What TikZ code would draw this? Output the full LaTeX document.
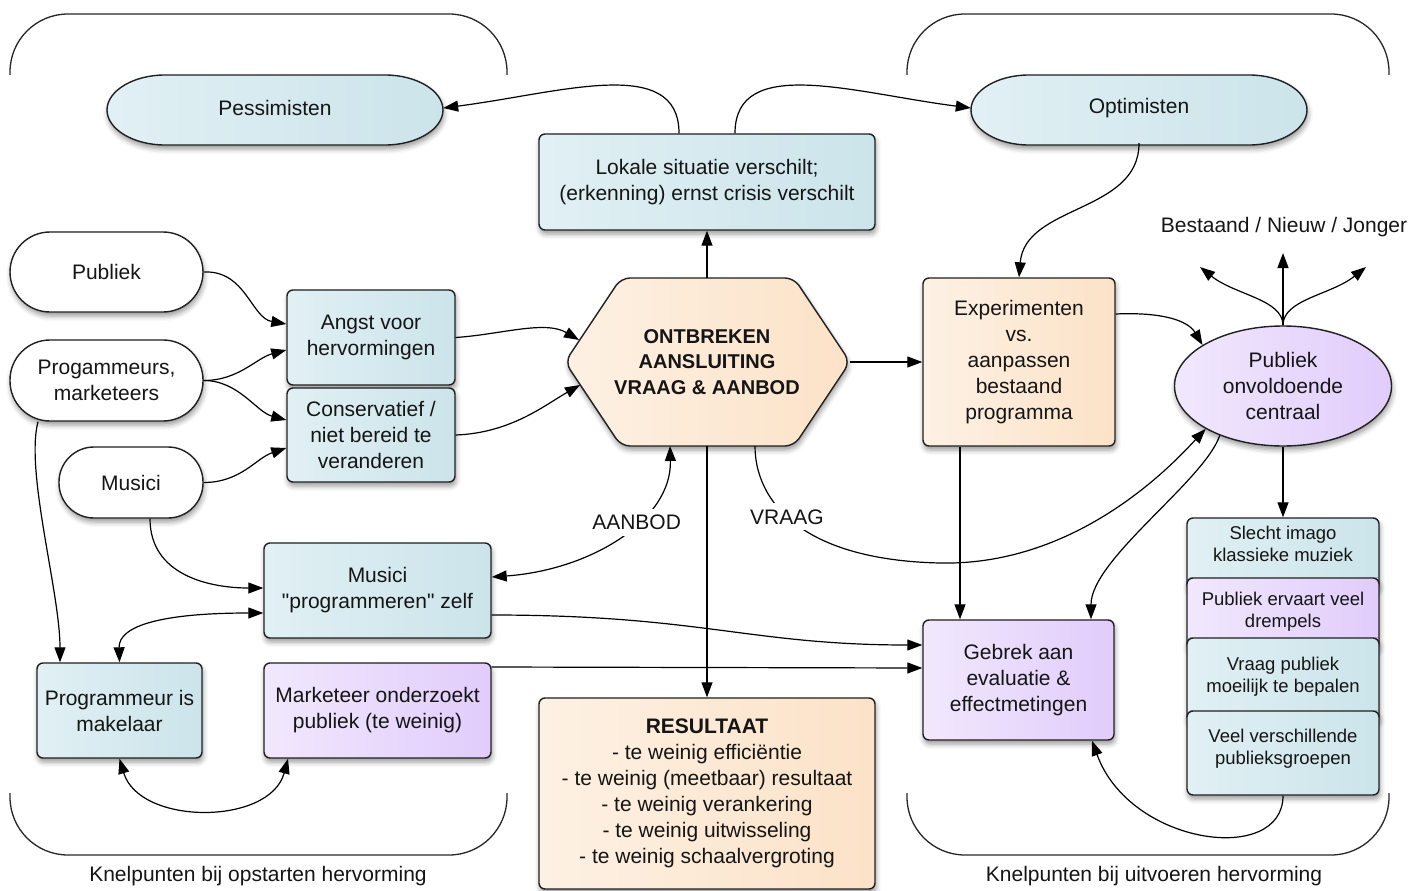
\documentclass[tikz,border=0pt]{standalone}
\usepackage{fontspec}
\setmainfont{Liberation Sans}
\usetikzlibrary{arrows.meta,shapes.geometric,shadows.blur,calc}

\definecolor{bL}{HTML}{E1F0F4}
\definecolor{bR}{HTML}{CBE4EA}
\definecolor{pL}{HTML}{FDF1E4}
\definecolor{pR}{HTML}{FCE2C7}
\definecolor{vL}{HTML}{F1E8FD}
\definecolor{vR}{HTML}{E1CCFB}
\definecolor{edge}{HTML}{202020}
\definecolor{txt}{HTML}{151515}
\newcommand{\strq}{\XeTeXglyph\XeTeXcharglyph34\relax}

\begin{document}
\begin{tikzpicture}[x=1pt,y=-1pt,
  every node/.style={font=\fontsize{21}{26}\selectfont, text=txt, align=center, inner sep=0pt},
  shad/.style={blur shadow={shadow xshift=1pt, shadow yshift=-4pt, shadow blur radius=5pt, shadow opacity=40}},
  basebox/.style={draw=edge, line width=1.4pt, rounded corners=6pt, shad},
  bluebox/.style={basebox, left color=bL, right color=bR},
  peachbox/.style={basebox, left color=pL, right color=pR},
  violetbox/.style={basebox, left color=vL, right color=vR},
  whitecap/.style={draw=edge, line width=1.4pt, fill=white, shad},
  stacktext/.style={font=\fontsize{18.5}{22}\selectfont},
  hextext/.style={font=\fontsize{20}{25.5}\selectfont\bfseries},
  bracket/.style={draw=black!85, line width=1.3pt, rounded corners=58pt},
  conn/.style={draw=black, line width=1.2pt, -{Triangle[length=15pt,width=11pt]}},
  conn2/.style={draw=black, line width=1.2pt, {Triangle[length=15pt,width=11pt]}-{Triangle[length=15pt,width=11pt]}},
  lab/.style={fill=white, inner sep=6pt}
]
\useasboundingbox (0,0) rectangle (1427,891);

% brackets
\draw[bracket] (10,75) -- (10,14) -- (507,14) -- (507,75);
\draw[bracket] (907,75) -- (907,14) -- (1389,14) -- (1389,75);
\draw[bracket] (10,793) -- (10,855) -- (507,855) -- (507,793);
\draw[bracket] (907,793) -- (907,855) -- (1389,855) -- (1389,793);
\node (labA) at (258,876) {Knelpunten bij opstarten hervorming};
\node (labB) at (1154,876) {Knelpunten bij uitvoeren hervorming};

% stadium shapes (pessimisten / optimisten)
\path[draw=edge, line width=1.4pt, left color=bL, right color=bR, shad]
  (165,75) -- (385,75) .. controls (417,75) and (443,91) .. (443,110)
  .. controls (443,129) and (417,145) .. (385,145) -- (165,145)
  .. controls (133,145) and (107,129) .. (107,110)
  .. controls (107,91) and (133,75) .. (165,75) -- cycle;
\node[minimum width=336pt, minimum height=70pt] (pess) at (275,108) {Pessimisten};
\path[draw=edge, line width=1.4pt, left color=bL, right color=bR, shad]
  (1029,75) -- (1249,75) .. controls (1281,75) and (1307,91) .. (1307,110)
  .. controls (1307,129) and (1281,145) .. (1249,145) -- (1029,145)
  .. controls (997,145) and (971,129) .. (971,110)
  .. controls (971,91) and (997,75) .. (1029,75) -- cycle;
\node[minimum width=336pt, minimum height=70pt] (opt) at (1139,108) {Optimisten};

\node[bluebox, minimum width=336pt, minimum height=96pt] (lok) at (707,182)
  {Lokale situatie verschilt;\\(erkenning) ernst crisis verschilt};

% left column
\node[whitecap, rounded corners=40pt, minimum width=193pt, minimum height=80pt] (pub) at (106.5,272) {Publiek};
\node[whitecap, rounded corners=40pt, minimum width=193pt, minimum height=81pt] (prog) at (106.5,380.5) {Progammeurs,\\marketeers};
\node[whitecap, rounded corners=35pt, minimum width=144pt, minimum height=71pt] (mus) at (131,482.5) {Musici};

\node[bluebox, minimum width=168pt, minimum height=95pt] (angst) at (371,337.5) {Angst voor\\hervormingen};
\node[bluebox, minimum width=168pt, minimum height=94pt] (cons) at (371,435) {Conservatief /\\niet bereid te\\veranderen};

% hexagon
\path[draw=edge, line width=1.4pt, left color=pL, right color=pR, rounded corners=9pt, shad]
  (565,362) -- (621,278) -- (794,278) -- (850,362) -- (794,446) -- (621,446) -- cycle;
\node[hextext, minimum width=285pt, minimum height=168pt] (hex) at (707,362) {ONTBREKEN\\AANSLUITING\\VRAAG \& AANBOD};
\coordinate (hexL1) at (579,340);
\coordinate (hexL2) at (580,385);
\coordinate (hexB1) at (670,446);
\coordinate (hexB2) at (755,446);

\node[peachbox, minimum width=192pt, minimum height=168pt] (exp) at (1019,362) {Experimenten\\vs.\\aanpassen\\bestaand\\programma};
\node[ellipse, draw=edge, line width=1.4pt, left color=vL, right color=vR, shad, minimum width=217pt, minimum height=120pt] (ell) at (1283,386) {Publiek\\onvoldoende\\centraal};

\node (bnj) at (1284,227) {Bestaand / Nieuw / Jonger};
\coordinate (upL) at (1200,267);
\coordinate (upM) at (1283,253);
\coordinate (upR) at (1366,267);

% lower boxes
\node[bluebox, minimum width=227pt, minimum height=95pt] (mzelf) at (377.5,590.5) {Musici\\\strq programmeren\strq{} zelf};
\node[bluebox, minimum width=165pt, minimum height=95pt] (progm) at (119.5,710.5) {Programmeur is\\makelaar};
\node[violetbox, minimum width=227pt, minimum height=95pt] (mark) at (377.5,710.5) {Marketeer onderzoekt\\publiek (te weinig)};
\node[peachbox, minimum width=336pt, minimum height=191pt] (res) at (707,793.5)
  {\textbf{RESULTAAT}\\- te weinig efficiëntie\\- te weinig (meetbaar) resultaat\\- te weinig verankering\\- te weinig uitwisseling\\- te weinig schaalvergroting};
\node[violetbox, minimum width=191pt, minimum height=120pt] (geb) at (1018.5,680) {Gebrek aan\\evaluatie \&\\effectmetingen};

% stack
\node[bluebox, minimum width=192pt, minimum height=72pt] (s1) at (1283,554) {};
\node[stacktext] (s1t) at (1283,544) {Slecht imago\\klassieke muziek};
\node[violetbox, minimum width=192pt, minimum height=72pt] (s2) at (1283,614) {};
\node[stacktext] (s2t) at (1283,612) {Publiek ervaart veel\\drempels};
\node[bluebox, minimum width=192pt, minimum height=84pt] (s3) at (1283,680) {};
\node[stacktext] (s3t) at (1283,677) {Vraag publiek\\moeilijk te bepalen};
\node[bluebox, minimum width=192pt, minimum height=84pt] (s4) at (1283,753) {};
\node[stacktext] (s4t) at (1283,749) {Veel verschillende\\publieksgroepen};

% connectors
\draw[conn] ([xshift=-28pt]lok.north) .. controls +(0,-79) and +(117,-15) .. (pess.east);
\draw[conn] ([xshift=28pt]lok.north) .. controls +(0,-79) and +(-117,-15) .. (opt.west);
\draw[conn] (hex.north) -- (lok.south);

\draw[conn] (pub.east) .. controls +(42,-2) and +(-35,-6) .. ([yshift=13.5pt]angst.west);
\draw[conn] (prog.east) .. controls +(35,0) and +(-30,8) .. ([yshift=-12.5pt]angst.west);
\draw[conn] (prog.east) .. controls +(35,0) and +(-30,-8) .. ([yshift=15pt]cons.west);
\draw[conn] (mus.east) .. controls +(37,0) and +(-30,10) .. ([yshift=-13pt]cons.west);

\draw[conn] (angst.east) .. controls +(45,-3) and +(-34,-20) .. (hexL1);
\draw[conn] (cons.east) .. controls +(55,-2) and +(-35,20) .. (hexL2);

\draw[conn] (hex.east) -- (exp.west);
\draw[conn] (opt.south) .. controls +(0,70) and +(6,-73) .. (exp.north);
\draw[conn] ([yshift=48pt]exp.east) .. controls +(45,-2) and +(-15,-25) .. (ell.153);
\draw[conn] ([xshift=-59pt]exp.south) -- ([xshift=-58.5pt]geb.north);
\draw[conn] (hex.south) -- (res.north);

\draw[conn2] ([yshift=13.5pt]mzelf.east) .. controls +(99,-7) and +(2,74) .. node[pos=0.6, lab] {AANBOD} (hexB1);
\coordinate (vraagmid) at (940,563);
\draw[conn] (hexB2) .. controls +(0,54) and +(-140,-3) .. node[pos=0.45, lab] {VRAAG} (vraagmid)
  .. controls +(140,3) and +(-30,32) .. (ell.209);
\draw[conn] (ell.218) .. controls +(-15,45) and +(0,-60) .. ([xshift=72.5pt]geb.north);
\draw[conn] (ell.south) -- (s1.north);
\draw[conn] (s4.south) .. controls +(0,70) and +(38,105) .. ([xshift=73.5pt]geb.south);

\draw[conn] ([yshift=-24.5pt]mzelf.east) .. controls +(209,0) and +(-173,0) .. ([yshift=35pt]geb.west);
\draw[conn] ([yshift=43.5pt]mark.east) -- ([yshift=12pt]geb.west);

\draw[conn] ([xshift=19pt]mus.south) .. controls +(0,57) and +(-53,0) .. ([yshift=2.5pt]mzelf.west);
\draw[conn] ([xshift=-68.5pt]prog.south) .. controls +(-13,50) and +(0,-70) .. ([xshift=-59.5pt]progm.north);
\draw[conn2] (progm.north) .. controls +(-1,-37) and +(-100,0) .. ([yshift=-22.5pt]mzelf.west);
\draw[conn2] (progm.south) .. controls +(20,67) and +(-18,67) .. ([xshift=-89.5pt]mark.south);

\draw[conn] (ell.north) .. controls +(0,-26) and +(35,28) .. (upL);
\draw[conn] (ell.north) -- (upM);
\draw[conn] (ell.north) .. controls +(0,-26) and +(-35,28) .. (upR);
\end{tikzpicture}
\end{document}
